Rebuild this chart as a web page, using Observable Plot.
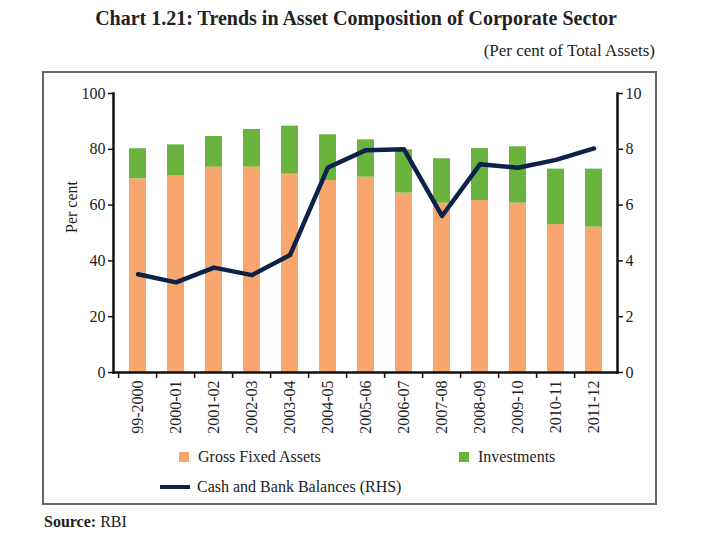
<!DOCTYPE html>
<html>
<head>
<meta charset="utf-8">
<script src="https://cdn.jsdelivr.net/npm/d3@7"></script>
<script src="https://cdn.jsdelivr.net/npm/@observablehq/plot@0.6"></script>
<style>
  body { margin: 0; background: #fff; }
  #wrap { position: relative; width: 720px; height: 540px; font-family: "Liberation Serif", "DejaVu Serif", serif; color: #222; }
  #title { position: absolute; left: 0; width: 712px; top: 7px; text-align: center; font-weight: bold; font-size: 20px; }
  #sub { position: absolute; right: 65px; top: 41px; font-size: 17px; }
  #frame { position: absolute; left: 42px; top: 71px; width: 611px; height: 430px; border: 2px solid #666; }
  #plot { position: absolute; left: 0; top: 70px; }
  .leg { position: absolute; font-size: 16px; display: flex; align-items: center; }
  .sw { display: inline-block; width: 10px; height: 10px; margin-right: 9px; }
  .ln { display: inline-block; width: 30px; height: 4px; margin-right: 7px; }
  #source { position: absolute; left: 44px; top: 513px; font-size: 16px; }
</style>
</head>
<body>
<div id="wrap">
  <div id="title">Chart 1.21: Trends in Asset Composition of Corporate Sector</div>
  <div id="sub">(Per cent of Total Assets)</div>
  <div id="frame"></div>
  <div id="plot"></div>
  <div class="leg" style="left:179px; top:448px;"><span class="sw" style="background:#F8A66E"></span>Gross Fixed Assets</div>
  <div class="leg" style="left:459px; top:448px;"><span class="sw" style="background:#6AB43E"></span>Investments</div>
  <div class="leg" style="left:160px; top:478px;"><span class="ln" style="background:#0D2249"></span>Cash and Bank Balances (RHS)</div>
  <div id="source"><b>Source:</b> RBI</div>
</div>
<script>
const categories = ["99-2000","2000-01","2001-02","2002-03","2003-04","2004-05","2005-06","2006-07","2007-08","2008-09","2009-10","2010-11","2011-12"];
const grossFixedAssets = [69.4,70.4,73.6,73.6,71.1,68.8,70.0,64.3,60.7,61.6,60.7,53.0,52.1];
const investments = [10.8,11.2,11.0,13.5,17.2,16.4,13.4,15.5,15.9,18.7,20.2,19.9,20.8];
const cashBank = [3.52,3.23,3.76,3.49,4.21,7.35,7.97,8.0,5.61,7.46,7.34,7.62,8.03];
const leftTicks = [0,20,40,60,80,100];
const rightTicks = [0,2,4,6,8,10];
const seriesNames = ["Gross Fixed Assets","Investments"];
const seriesColors = ["#F8A66E","#6AB43E"];

const barRows = [];
categories.forEach((c, i) => {
  barRows.push({cat: c, series: seriesNames[0], value: grossFixedAssets[i]});
  barRows.push({cat: c, series: seriesNames[1], value: investments[i]});
});
const lineRows = categories.map((c, i) => ({cat: c, v: cashBank[i]}));

const W = 720, H = 370, mL = 113, mR = 103, mT = 23, mB = 68;
const step = (W - mL - mR) / categories.length;
const ratio = 100 / 10;

const chart = Plot.plot({
  width: W, height: H,
  marginLeft: mL, marginRight: mR, marginTop: mT, marginBottom: mB,
  style: {fontFamily: "Liberation Serif, DejaVu Serif, serif", fontSize: "16px", color: "#222", background: "transparent"},
  x: {domain: categories, paddingInner: 0.56, paddingOuter: 0.28},
  y: {domain: [0, 100]},
  color: {domain: seriesNames, range: seriesColors},
  marks: [
    Plot.barY(barRows, {x: "cat", y: "value", fill: "series", order: seriesNames}),
    Plot.line(lineRows, {x: "cat", y: d => d.v * ratio, stroke: "#0D2249", strokeWidth: 4.5, strokeLinejoin: "round"}),
    Plot.axisY({anchor: "left", ticks: leftTicks, tickSize: 5, tickPadding: 3, label: null, stroke: "#111", strokeWidth: 1.5}),
    Plot.axisY({anchor: "right", ticks: rightTicks.map(t => t * ratio), tickFormat: d => d / ratio, tickSize: 5, tickPadding: 3, label: null, stroke: "#111", strokeWidth: 1.5}),
    Plot.axisX({tickSize: 0, tickRotate: -90, tickPadding: 8, label: null}),
    Plot.axisX({tickSize: 6, tickFormat: () => "", dx: -step / 2, label: null, stroke: "#111", strokeWidth: 1.5}),
    Plot.frame({anchor: "left", stroke: "#111", strokeWidth: 2.5}),
    Plot.frame({anchor: "right", stroke: "#111", strokeWidth: 2.5}),
    Plot.frame({anchor: "bottom", stroke: "#111", strokeWidth: 2.5}),
    Plot.text(["Per cent"], {frameAnchor: "left", rotate: -90, dx: -42, fontSize: 16})
  ]
});
document.getElementById("plot").appendChild(chart);
</script>
</body>
</html>
